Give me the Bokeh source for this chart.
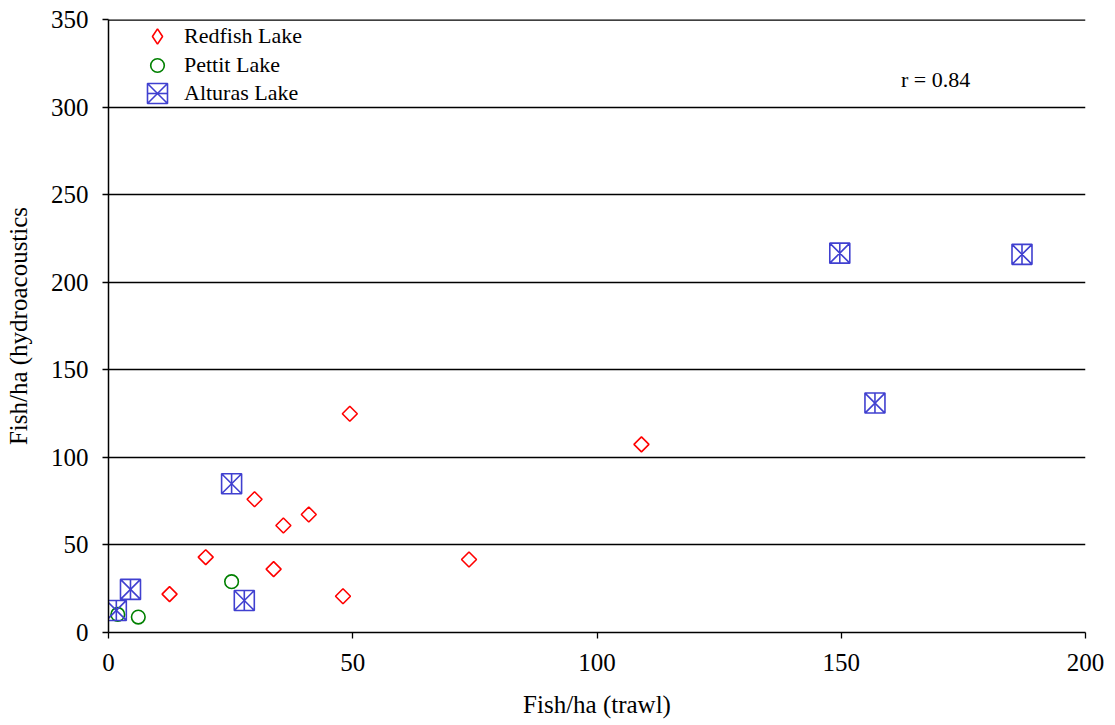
import math

from bokeh.plotting import figure
from bokeh.models import Range1d, Legend, LegendItem, Label, Span
from bokeh.embed import file_html
from bokeh.resources import INLINE

# Fish density per hectare: trawl estimate vs hydroacoustic estimate
redfish_trawl = [12.5, 19.9, 29.9, 35.8, 33.8, 41.0, 48.0, 49.4, 73.8, 109.1]
redfish_hydro = [21.9, 43.0, 76.1, 61.1, 36.2, 67.4, 20.7, 124.9, 41.7, 107.4]

pettit_trawl = [6.1, 25.2, 1.9]
pettit_hydro = [8.8, 29.0, 10.3]

alturas_trawl = [1.6, 4.5, 25.2, 27.8, 149.7, 156.9, 187.0]
alturas_hydro = [12.6, 24.6, 84.9, 18.3, 216.6, 131.0, 215.9]

x_ticks = [0, 50, 100, 150, 200]
y_ticks = [0, 50, 100, 150, 200, 250, 300, 350]
x_title = "Fish/ha (trawl)"
y_title = "Fish/ha (hydroacoustics"
r_value = 0.84

FONT = "Liberation Serif"
RED = "#ff0000"
GREEN = "#008000"
BLUE = "#4040d0"

p = figure(
    width=1115, height=725,
    x_range=Range1d(x_ticks[0], x_ticks[-1]), y_range=Range1d(y_ticks[0], y_ticks[-1]),
    output_backend="svg", toolbar_location=None,
    min_border_left=108, min_border_right=30,
    min_border_top=19, min_border_bottom=93,
)
p.outline_line_color = None
p.background_fill_color = "white"
p.border_fill_color = "white"

p.xgrid.grid_line_color = None
p.ygrid.grid_line_color = "black"
p.ygrid.grid_line_width = 1.3
# the grid skips the range end, so the top line is added explicitly
# (it sits on the frame edge, where half of its width is clipped)
p.add_layout(Span(location=y_ticks[-1], dimension="width",
                  line_color="black", line_width=2.6))

p.xaxis.ticker = x_ticks
p.yaxis.ticker = y_ticks
for ax in (p.xaxis, p.yaxis):
    ax.axis_line_color = "black"
    ax.axis_line_width = 1.5
    ax.major_tick_line_color = "black"
    ax.major_tick_line_width = 1.3
    ax.major_tick_out = 6
    ax.major_tick_in = 0
    ax.minor_tick_line_color = None
    ax.major_label_text_font = FONT
    ax.major_label_text_font_size = "25px"
    ax.major_label_text_color = "black"
    ax.axis_label_text_font = FONT
    ax.axis_label_text_font_size = "25px"
    ax.axis_label_text_font_style = "normal"
    ax.axis_label_text_color = "black"

p.xaxis.axis_label = x_title
p.yaxis.axis_label = y_title
p.xaxis.major_label_standoff = 15
p.yaxis.major_label_standoff = 14
p.xaxis.axis_label_standoff = 17
p.yaxis.axis_label_standoff = 16

r_red = p.scatter(redfish_trawl, redfish_hydro, marker="square", angle=math.pi / 4,
                  size=10.6, fill_color=None, line_color=RED, line_width=1.6)
r_green = p.scatter(pettit_trawl, pettit_hydro, marker="circle", size=13.6,
                    fill_color=None, line_color=GREEN, line_width=1.6)
r_blue_box = p.scatter(alturas_trawl, alturas_hydro, marker="square_x", size=20,
                       fill_color=None, line_color=BLUE, line_width=1.6)
r_blue_bar = p.scatter(alturas_trawl, alturas_hydro, marker="dash", angle=math.pi / 2,
                       size=20, line_color=BLUE, line_width=1.6)

# legend keys do not rotate, so the Redfish key comes from a hidden upright-diamond renderer
r_red_key = p.scatter(redfish_trawl, redfish_hydro, marker="diamond", size=15,
                      fill_color=None, line_color=RED, line_width=1.6, visible=False)


def legend_entry(label, renderers, glyph_h, center_y):
    # one single-item legend per series so each key keeps its own marker size
    return Legend(
        items=[LegendItem(label=label, renderers=renderers)],
        location=(24, 632 - center_y - glyph_h // 2),
        glyph_width=50, glyph_height=glyph_h,
        label_standoff=2, label_height=20,
        padding=0, margin=0, spacing=0,
        border_line_color=None, background_fill_alpha=0,
        inactive_fill_alpha=0,
        label_text_font=FONT, label_text_font_size="22px",
        label_text_color="black",
    )


p.add_layout(legend_entry("Redfish Lake", [r_red_key], 38, 36))
p.add_layout(legend_entry("Pettit Lake", [r_green], 34, 65))
p.add_layout(legend_entry("Alturas Lake", [r_blue_box, r_blue_bar], 50, 93))

p.add_layout(Label(x=169.3, y=315.8, text=f"r = {r_value}",
                   text_font=FONT, text_font_size="22px", text_color="black",
                   text_align="center", text_baseline="middle"))

open("out.html", "w").write(file_html(p, INLINE))
